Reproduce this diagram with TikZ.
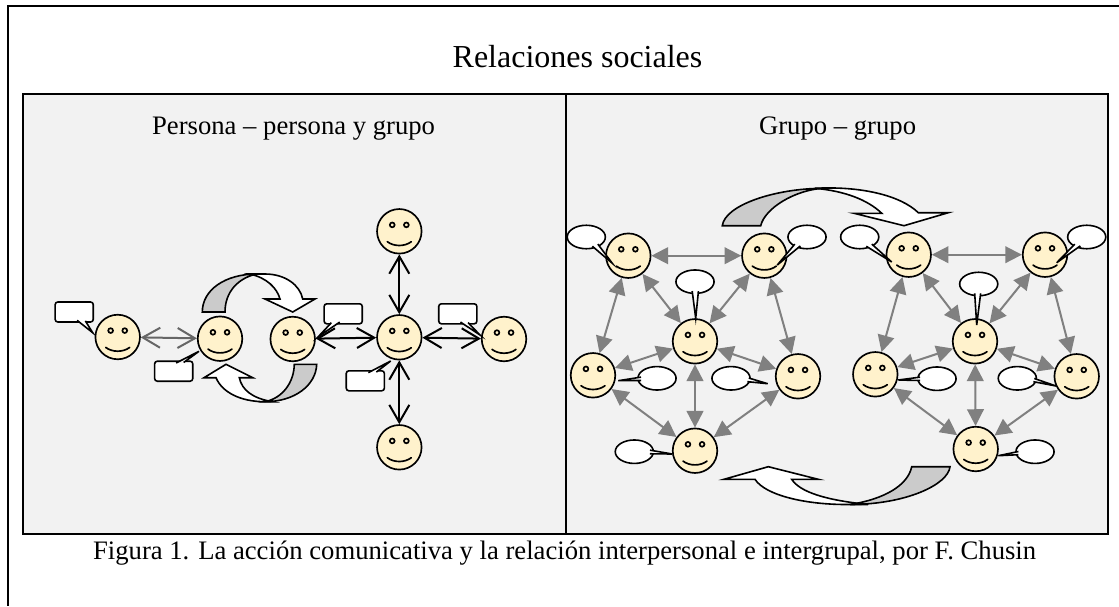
\documentclass[tikz,border=0pt]{standalone}
\usepackage{fontspec}
\setmainfont{Liberation Serif}
\usetikzlibrary{arrows.meta,shapes.geometric,calc}
\definecolor{facefill}{HTML}{FFF2CC}
\definecolor{panelfill}{HTML}{F2F2F2}
\definecolor{sweep}{HTML}{CBCBCB}
\definecolor{linkgray}{HTML}{808080}
\definecolor{linkdark}{HTML}{666666}
\tikzset{
  face/.style={circle,draw=black,fill=facefill,line width=1.25pt,minimum size=33.4pt,inner sep=0pt,
    path picture={
      \coordinate (fc) at (path picture bounding box.center);
      \filldraw[fill=facefill,draw=black,line width=1.25pt] ($(fc)+(-5.3pt,4.8pt)$) circle (1.8pt);
      \filldraw[fill=facefill,draw=black,line width=1.25pt] ($(fc)+(5.3pt,4.8pt)$) circle (1.8pt);
      \draw[line width=1.25pt,line cap=round] ($(fc)+(-9pt,-7.8pt)$) .. controls ($(fc)+(-4pt,-11.6pt)$) and ($(fc)+(4pt,-11.6pt)$) .. ($(fc)+(9pt,-7.8pt)$);
    }},
  oval/.style={ellipse,draw=black,fill=white,line width=1.2pt,minimum width=28.6pt,minimum height=17.6pt,inner sep=0pt},
  rbox/.style={rectangle,rounded corners=2pt,draw=black,fill=white,line width=1.2pt,minimum width=28.6pt,minimum height=15pt,inner sep=0pt},
  tailst/.style={draw=black,fill=white,line width=1.2pt,line join=miter},
  blink/.style={{Straight Barb[length=13pt,width=15pt]}-{Straight Barb[length=13pt,width=15pt]},draw=black,line width=1.5pt},
  dlink/.style={{Straight Barb[length=13pt,width=15pt]}-{Straight Barb[length=13pt,width=15pt]},draw=linkdark,line width=1.5pt},
  glink/.style={{Triangle[length=12.5pt,width=12.5pt]}-{Triangle[length=12.5pt,width=12.5pt]},draw=linkgray,fill=linkgray,line width=1.5pt},
  sweepg/.style={draw=black,fill=sweep,line width=1.2pt,line join=miter},
  sweepw/.style={draw=black,fill=white,line width=1.2pt,line join=miter},
  frameln/.style={draw=black,line width=1.4pt},
  panel/.style={draw=black,fill=panelfill,line width=1.4pt},
  lbl/.style={inner sep=0pt,text=black,anchor=base}
}
\newcommand{\calltail}[4]{\draw[tailst] ($(#2)!1.3pt!(#1.center)$) -- (#3) -- ($(#4)!1.3pt!(#1.center)$);}
\begin{document}
\begin{tikzpicture}[x=0.75pt,y=-0.75pt]
\useasboundingbox (0,0) rectangle (1119,606);
% frame
\coordinate (ftl) at (8,6); \coordinate (ftr) at (1119,6); \coordinate (fbl) at (8,606);
\draw[frameln] (ftr) -- (ftl) -- (fbl);
% panels
\draw[panel] (23,94) rectangle (566,534);
\draw[panel] (566,94) rectangle (1108,534);
% texts
\node[lbl,font=\fontsize{24pt}{28pt}\selectfont] (title) at (577.5,68) {Relaciones sociales};
\node[lbl,font=\fontsize{20pt}{24pt}\selectfont] (subl) at (293.6,134) {Persona – persona y grupo};
\node[lbl,font=\fontsize{20pt}{24pt}\selectfont] (subr) at (837.6,134) {Grupo – grupo};
\node[lbl,font=\fontsize{20pt}{24pt}\selectfont] (cap) at (564.6,559) {Figura 1. La acción comunicativa y la relación interpersonal e intergrupal, por F. Chusin};
% curved arrows left
\draw[sweepg] (202.3,312) .. controls (202.3,290) and (225,274) .. (256.7,274) .. controls (238,278) and (225,292) .. (225,312) -- cycle;
\draw[sweepw] (250,274) -- (265,274) .. controls (285,274) and (300,285) .. (302.7,299) -- (315,299) -- (292.7,312) -- (265,299) -- (280,299) .. controls (277,288) and (267,278) .. (250,274) -- cycle;
\draw[sweepg] (316.7,364.3) .. controls (316,385) and (295,401.7) .. (265,401.7) .. controls (283,398) and (294,382) .. (294.3,364.3) -- cycle;
\draw[sweepw] (272,401.7) -- (265,401.7) .. controls (240,401.7) and (222,392) .. (216,377.7) -- (204,377.7) -- (226,364.3) -- (252.7,377.7) -- (239.3,377.7) .. controls (242,390) and (252,398) .. (272,401.7) -- cycle;
% curved arrows right
\draw[sweepg] (722.3,225.7) .. controls (725,205) and (775,188.5) .. (823,188.3) .. controls (795,190) and (765,208) .. (760.7,225.7) -- cycle;
\draw[sweepw] (815,188.3) .. controls (860,186) and (900,195) .. (918.3,212.7) -- (948.3,212.7) -- (904,225.7) -- (854,213.3) -- (881.7,213.3) .. controls (868,200) and (845,191) .. (815,188.3) -- cycle;
\draw[sweepg] (950,466.7) .. controls (948,485) and (905,504.5) .. (850,504.5) .. controls (885,499) and (908,485) .. (911.7,466.7) -- cycle;
\draw[sweepw] (868,504.5) -- (850,504.5) .. controls (805,505) and (765,495) .. (755,479.3) -- (724,479.3) -- (768.3,466.7) -- (818.3,479.3) -- (791.7,479.3) .. controls (800,492) and (825,500) .. (868,504.5) -- cycle;
% faces left
\node[face] (s1) at (117.7,337) {};
\node[face] (s2) at (220,338.7) {};
\node[face] (s3) at (292.7,339) {};
\node[face] (c) at (399.3,337.3) {};
\node[face] (t) at (399.3,231.3) {};
\node[face] (b) at (399.3,447.3) {};
\node[face] (r) at (504,339) {};
% faces right
\foreach \n/\p in {a1/{628.3,255.7},a2/{764.3,255.7},a3/{695,341.3},a4/{593,375.3},a5/{798,376.3},a6/{695,450.7},
  b1/{908.7,254.7},b2/{1045,254.7},b3/{975,341.3},b4/{875.3,374.3},b5/{1076.7,376.3},b6/{975.7,449}}
  {\node[face] (\n) at (\p) {};}
% links
\draw[dlink] (s1) -- (s2);
\draw[blink] (s3) -- (c);
\draw[blink] (c) -- (t);
\draw[blink] (c) -- (b);
\draw[blink] (c) -- (r);
\foreach \g in {a,b}{
  \draw[glink] (\g1) -- (\g2);
  \draw[glink] (\g1) -- (\g3);
  \draw[glink] (\g2) -- (\g3);
  \draw[glink] (\g1) -- (\g4);
  \draw[glink] (\g2) -- (\g5);
  \draw[glink] (\g3) -- (\g4);
  \draw[glink] (\g3) -- (\g5);
  \draw[glink] (\g3) -- (\g6);
  \draw[glink] (\g4) -- (\g6);
  \draw[glink] (\g5) -- (\g6);
}
% rectangular callouts
\node[rbox] (r1) at (74.2,312) {};
\calltail{r1}{77.7,322}{92.7,332.7}{86.7,322}
\node[rbox] (r2) at (173.7,371.2) {};
\calltail{r2}{176.7,361.3}{199,351.3}{185,361.3}
\node[rbox] (r3) at (343.2,313.8) {};
\calltail{r3}{339,323.7}{318.3,336.7}{330,323.7}
\node[rbox] (r4) at (457.8,313.8) {};
\calltail{r4}{461,323.7}{480,335}{469.3,323.7}
\node[rbox] (r5) at (365.3,380.8) {};
\calltail{r5}{369,371}{390.7,361}{377.7,371}
% oval callouts
\node[oval] (e1) at (586.3,237) {};
\calltail{e1}{593.3,247.7}{612.3,263.3}{599.3,245}
\node[oval] (e2) at (807,237) {};
\calltail{e2}{793.3,245}{777.3,265}{799.3,247.3}
\node[oval] (e3) at (695,281.7) {};
\calltail{e3}{691.7,292.7}{695.7,318.3}{699,292.7}
\node[oval] (e4) at (657,378.3) {};
\calltail{e4}{639.3,377}{618.3,380.7}{639.3,380.7}
\node[oval] (e5) at (731,378.3) {};
\calltail{e5}{750.5,378}{767.7,383.7}{749,382}
\node[oval] (e6) at (634.3,451.7) {};
\calltail{e6}{651.7,450}{672.3,454}{651.7,454}
\node[oval] (f1) at (859.7,237) {};
\calltail{f1}{867.3,247.7}{891.7,262}{873.3,245}
\node[oval] (f2) at (1086.7,237) {};
\calltail{f2}{1073.3,245}{1056.7,262.7}{1079.3,247.3}
\node[oval] (f3) at (978.7,284) {};
\calltail{f3}{974,295}{976.7,325}{981,295}
\node[oval] (f4) at (937,378.7) {};
\calltail{f4}{918.3,377}{898.3,380}{918.3,380.7}
\node[oval] (f5) at (1017.3,378.3) {};
\calltail{f5}{1036,378.5}{1056,386}{1035,382}
\node[oval] (f6) at (1035,451.7) {};
\calltail{f6}{1016.7,451.5}{998.3,455.7}{1016.7,455}
\end{tikzpicture}
\end{document}
